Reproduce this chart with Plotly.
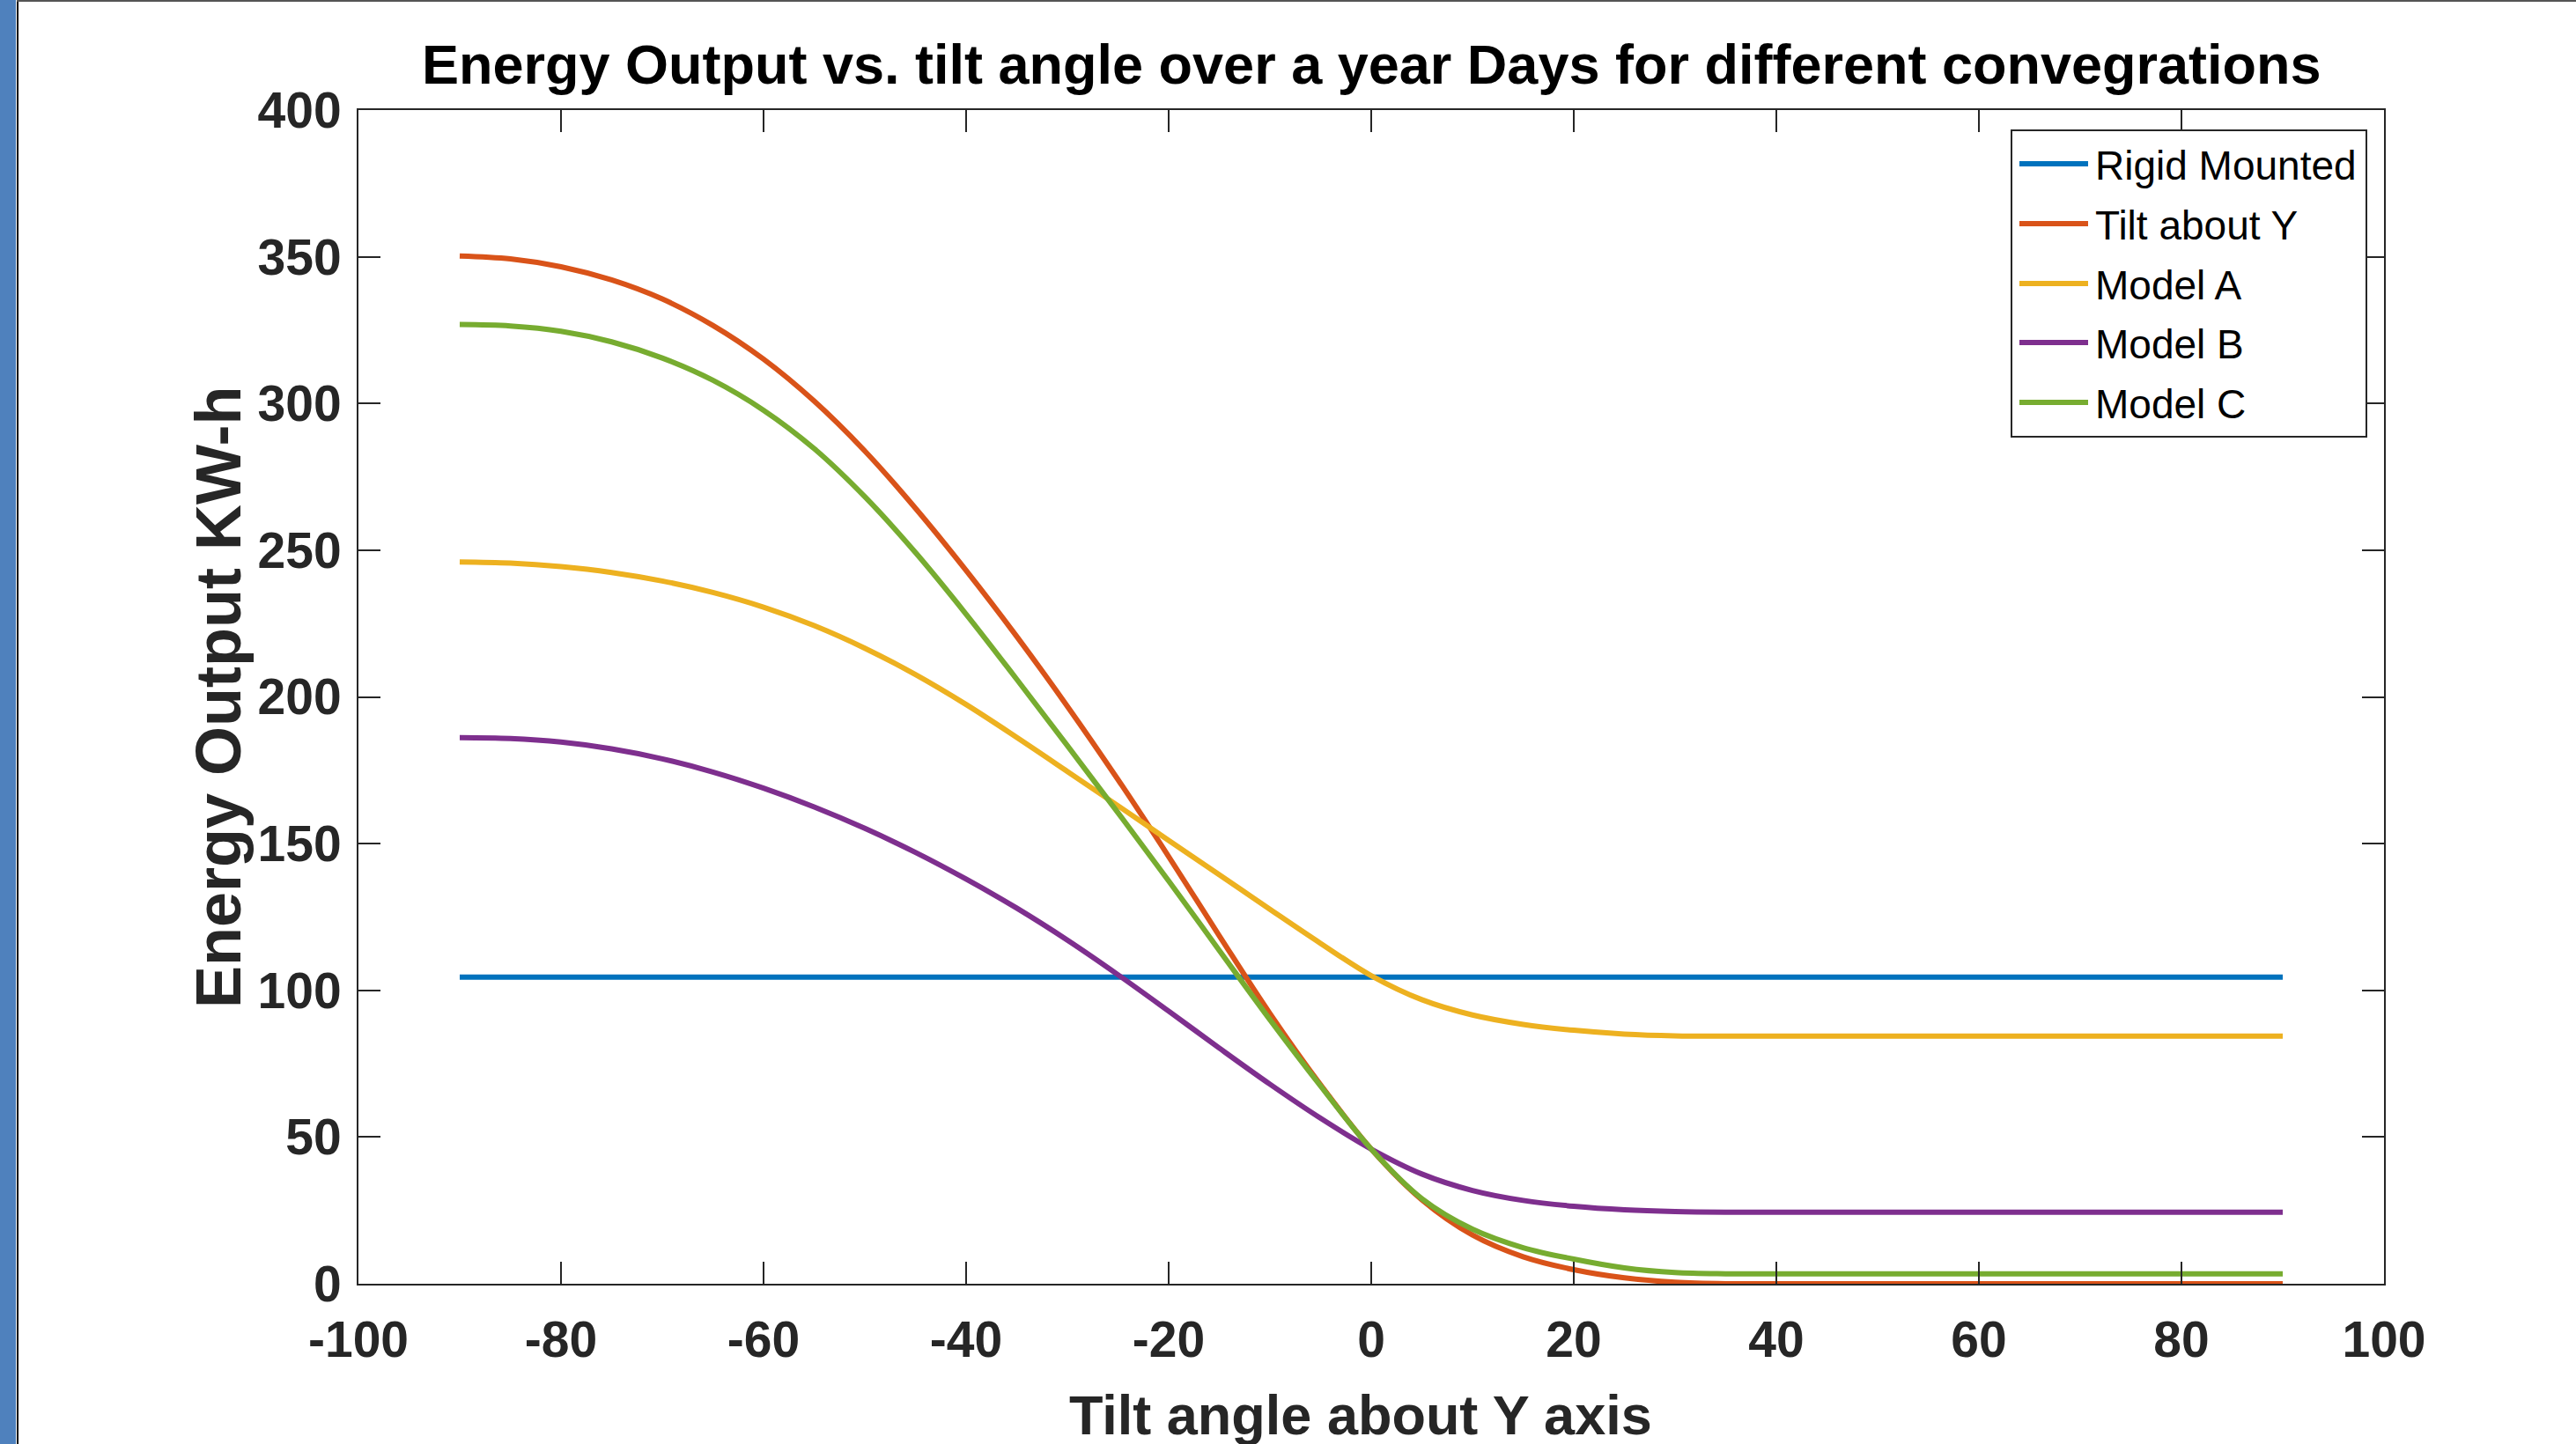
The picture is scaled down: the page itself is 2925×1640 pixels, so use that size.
import plotly.graph_objects as go

# ---------------- data ----------------
angles = [-90, -85, -80, -75, -70, -65, -60, -55, -50, -45, -40, -35, -30, -25,
          -20, -15, -10, -5, 0, 5, 10, 15, 20, 25, 30, 35, 40, 45, 50, 55, 60,
          65, 70, 75, 80, 85, 90]

rigid_mounted = [104.5, 104.5, 104.5, 104.5, 104.5, 104.5, 104.5, 104.5, 104.5,
                 104.5, 104.5, 104.5, 104.5, 104.5, 104.5, 104.5, 104.5, 104.5,
                 104.5, 104.5, 104.5, 104.5, 104.5, 104.5, 104.5, 104.5, 104.5,
                 104.5, 104.5, 104.5, 104.5, 104.5, 104.5, 104.5, 104.5, 104.5,
                 104.5]

tilt_about_y = [350.3, 349.3, 346.6, 342.1, 335.6, 326.6, 315.1, 300.8, 283.8,
                264.3, 243.1, 220.6, 196.8, 171.8, 145.6, 118.6, 92.1, 67.8,
                45.9, 28.6, 16.6, 9.2, 4.8, 2.0, 0.5, 0.0, 0.0, 0.0, 0.0, 0.0,
                0.0, 0.0, 0.0, 0.0, 0.0, 0.0, 0.0]

model_a = [246.0, 245.6, 244.4, 242.4, 239.5, 235.6, 230.6, 224.3, 216.6, 207.6,
           197.4, 186.2, 174.6, 162.9, 151.1, 139.4, 127.6, 116.0, 105.0, 96.8,
           91.6, 88.4, 86.4, 85.1, 84.5, 84.4, 84.4, 84.4, 84.4, 84.4, 84.4,
           84.4, 84.4, 84.4, 84.4, 84.4, 84.4]

model_b = [186.1, 185.8, 184.6, 182.3, 178.9, 174.4, 168.9, 162.5, 155.2, 147.0,
           137.9, 128.0, 117.1, 105.3, 92.9, 80.3, 68.0, 56.4, 45.9, 37.4, 31.8,
           28.4, 26.4, 25.2, 24.6, 24.4, 24.4, 24.4, 24.4, 24.4, 24.4, 24.4,
           24.4, 24.4, 24.4, 24.4, 24.4]

model_c = [326.9, 326.4, 324.6, 321.0, 315.5, 307.9, 297.7, 284.6, 268.2, 249.2,
           228.2, 206.0, 183.4, 160.5, 137.3, 113.6, 90.0, 67.4, 45.9, 29.0, 18.6,
           12.3, 8.4, 5.4, 3.8, 3.4, 3.4, 3.4, 3.4, 3.4, 3.4, 3.4, 3.4, 3.4, 3.4,
           3.4, 3.4]

series_names = ["Rigid Mounted", "Tilt about Y", "Model A", "Model B", "Model C"]
series_values = [rigid_mounted, tilt_about_y, model_a, model_b, model_c]
series_colors = ["#0072BD", "#D95319", "#EDB120", "#7E2F8E", "#77AC30"]

x_tick_vals = [-100, -80, -60, -40, -20, 0, 20, 40, 60, 80, 100]
x_tick_text = ["-100", "-80", "-60", "-40", "-20", "0", "20", "40", "60", "80", "100"]
y_tick_vals = [0, 50, 100, 150, 200, 250, 300, 350, 400]
y_tick_text = ["0", "50", "100", "150", "200", "250", "300", "350", "400"]

title_text = "Energy Output vs. tilt angle over a year Days for different convegrations"
x_title = "Tilt angle about Y axis"
y_title = "Energy Output KW-h"

# ---------------- layout geometry ----------------
W, H = 2925, 1640
L, R, T, B = 407, 2707, 125, 1458

def px_x(px):
    return (px - L) / (R - L)

def px_y(py):
    return (B - py) / (B - T)

SANS = "Liberation Sans, Arial, Helvetica, sans-serif"
AXC = "#262626"

fig = go.Figure()
for name, vals, col in zip(series_names, series_values, series_colors):
    fig.add_trace(go.Scatter(
        x=angles, y=vals, mode="lines", name=name,
        line=dict(color=col, width=6, shape="spline", smoothing=1.0),
        cliponaxis=False, showlegend=False, hoverinfo="x+y+name"))

axis_common = dict(
    showline=True, linecolor=AXC, linewidth=2, mirror="ticks",
    ticks="inside", ticklen=25, tickwidth=2, tickcolor=AXC,
    showgrid=False, zeroline=False,
    tickfont=dict(family=SANS, size=57, color=AXC, weight="bold"),
)

fig.update_xaxes(range=[-100, 100], tickmode="array", tickvals=x_tick_vals,
                 ticktext=x_tick_text, ticklabelstandoff=13, **axis_common)
fig.update_yaxes(range=[0, 400], tickmode="array", tickvals=y_tick_vals,
                 ticktext=y_tick_text, ticklabelstandoff=6, **axis_common)

annotations = []
shapes = []

# title and axis titles
annotations.append(dict(text=title_text, xref="paper", yref="paper",
                        x=px_x(1557), y=px_y(73), xanchor="center", yanchor="middle",
                        showarrow=False,
                        font=dict(family=SANS, size=63, color="#000000", weight="bold")))
annotations.append(dict(text=x_title, xref="paper", yref="paper",
                        x=px_x(1545), y=px_y(1607), xanchor="center", yanchor="middle",
                        showarrow=False,
                        font=dict(family=SANS, size=63, color=AXC, weight="bold")))
annotations.append(dict(text=y_title, xref="paper", yref="paper",
                        x=px_x(248), y=px_y(792), xanchor="center", yanchor="middle",
                        textangle=-90, showarrow=False,
                        font=dict(family=SANS, size=72, color=AXC, weight="bold")))

# legend (box, line samples, labels)
shapes.append(dict(type="rect", xref="paper", yref="paper",
                   x0=px_x(2284), x1=px_x(2687), y0=px_y(496), y1=px_y(148),
                   line=dict(color=AXC, width=2), fillcolor="white", layer="above"))
entry_y = [186, 254, 322, 389, 457]
for name, col, ey in zip(series_names, series_colors, entry_y):
    shapes.append(dict(type="line", xref="paper", yref="paper",
                       x0=px_x(2293), x1=px_x(2371), y0=px_y(ey), y1=px_y(ey),
                       line=dict(color=col, width=6), layer="above"))
    annotations.append(dict(text=name, xref="paper", yref="paper",
                            x=px_x(2377), y=px_y(ey + 2), xanchor="left", yanchor="middle",
                            showarrow=False,
                            font=dict(family=SANS, size=46, color="#000000")))

# page decoration: blue bar on the left and window border
shapes.append(dict(type="rect", xref="paper", yref="paper",
                   x0=px_x(0), x1=px_x(18), y0=px_y(H), y1=px_y(0),
                   line=dict(width=0), fillcolor="#4F81BD", layer="above"))
shapes.append(dict(type="line", xref="paper", yref="paper",
                   x0=px_x(20), x1=px_x(20), y0=px_y(H), y1=px_y(0),
                   line=dict(color="#000000", width=2), layer="above"))
shapes.append(dict(type="line", xref="paper", yref="paper",
                   x0=px_x(19), x1=px_x(W), y0=px_y(1), y1=px_y(1),
                   line=dict(color="#555555", width=2), layer="above"))

fig.update_layout(
    width=W, height=H,
    margin=dict(l=L, r=W - R, t=T, b=H - B, pad=0),
    paper_bgcolor="white", plot_bgcolor="white",
    showlegend=False,
    annotations=annotations, shapes=shapes,
)

fig.write_html("out.html")
